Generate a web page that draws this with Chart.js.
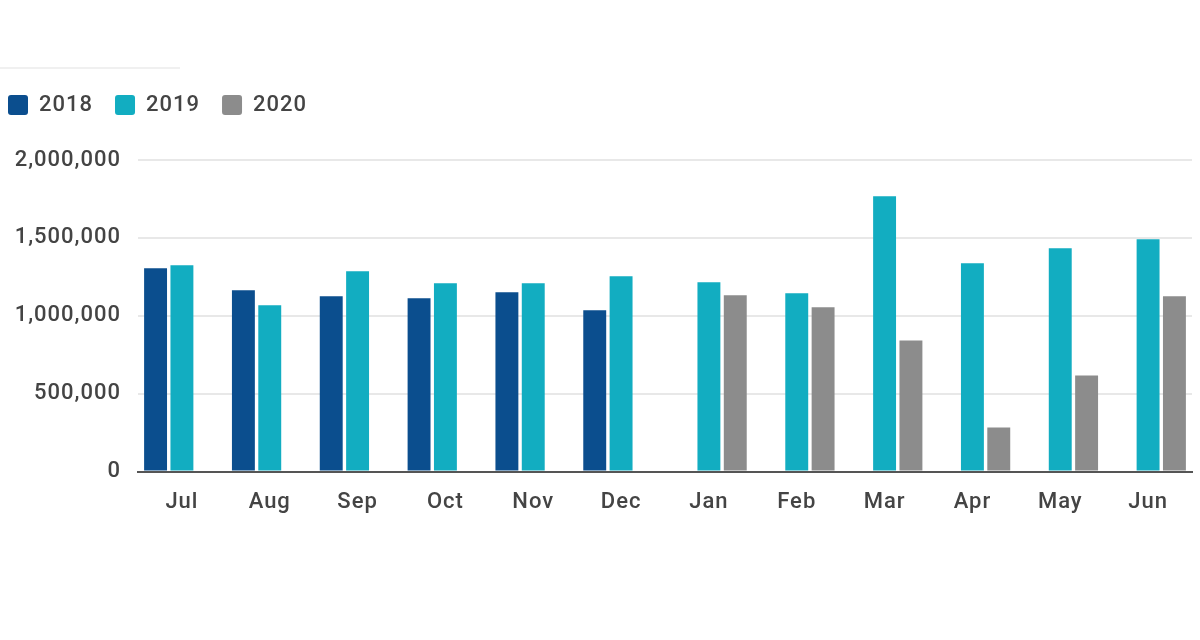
<!DOCTYPE html>
<html>
<head>
<meta charset="utf-8">
<script src="https://cdn.jsdelivr.net/npm/chart.js@4/dist/chart.umd.min.js"></script>
<style>
  html, body { margin: 0; padding: 0; background: #fff; overflow: hidden; }
  #wrap { position: relative; width: 1200px; height: 640px; overflow: hidden; }
  #topline { position: absolute; left: 0; top: 67px; width: 180px; height: 2px; background: #f0f0f0; }
  #chart { position: absolute; left: -14px; top: 0; }
</style>
</head>
<body>
<div id="wrap">
  <div id="topline"></div>
  <canvas id="chart" width="1210" height="640"></canvas>
</div>
<script>
// months, Jul 2018/2019 through Jun 2019/2020
var months = ["Jul", "Aug", "Sep", "Oct", "Nov", "Dec", "Jan", "Feb", "Mar", "Apr", "May", "Jun"];
var years = ["2018", "2019", "2020"];
var values2018 = [1305000, 1164000, 1125000, 1113000, 1151000, 1035000, null, null, null, null, null, null];
var values2019 = [1325000, 1067000, 1286000, 1209000, 1209000, 1254000, 1215000, 1145000, 1768000, 1338000, 1434000, 1492000];
var values2020 = [null, null, null, null, null, null, 1132000, 1055000, 842000, 283000, 617000, 1125000];
var yTicks = [0, 500000, 1000000, 1500000, 2000000];

var colors = ['#0b4e8e', '#12adc1', '#8c8c8c'];
var textFont = { family: 'Roboto', size: 22, weight: '500' };

// extra room under the legend
var legendGap = {
    id: 'legendGap',
    beforeInit: function (chart) {
        var fit = chart.legend.fit;
        chart.legend.fit = function () {
            fit.bind(chart.legend)();
            this.height += 34;
        };
    }
};

// the original text is a bit wider than Roboto
var spacing = {
    id: 'spacing',
    beforeUpdate: function (chart) { chart.ctx.letterSpacing = '1px'; },
    beforeDraw: function (chart) { chart.ctx.letterSpacing = '1px'; }
};

var ctx = document.getElementById("chart");
var myChart = new Chart(ctx, {
    type: 'bar',
    data: {
        labels: months,
        datasets: [
            { label: years[0], data: values2018, backgroundColor: colors[0] },
            { label: years[1], data: values2019, backgroundColor: colors[1] },
            { label: years[2], data: values2020, backgroundColor: colors[2] }
        ]
    },
    plugins: [legendGap, spacing],
    options: {
        responsive: false,
        animation: false,
        categoryPercentage: 0.9,
        barPercentage: 0.87,
        layout: {
            padding: { top: 72, right: 4, bottom: 114, left: 0 }
        },
        plugins: {
            tooltip: { enabled: false },
            legend: {
                position: 'top',
                align: 'start',
                labels: {
                    boxWidth: 20,
                    boxHeight: 20,
                    useBorderRadius: true,
                    borderRadius: 3,
                    padding: 22,
                    color: '#444',
                    font: textFont
                }
            }
        },
        scales: {
            x: {
                grid: { display: false },
                border: { display: true, color: '#555', width: 2 },
                ticks: {
                    color: '#444',
                    padding: 10,
                    font: textFont
                }
            },
            y: {
                min: 0,
                max: 2000000,
                afterBuildTicks: function (axis) {
                    axis.ticks = yTicks.map(function (v) { return { value: v }; });
                },
                afterFit: function (axis) { axis.width = 152; },
                grid: { color: '#e8e8e8', lineWidth: 2, drawTicks: false },
                border: { display: false },
                ticks: {
                    color: '#444',
                    padding: 17,
                    font: textFont,
                    callback: function (v) { return v.toLocaleString('en-US'); }
                }
            }
        }
    }
});
</script>
</body>
</html>
